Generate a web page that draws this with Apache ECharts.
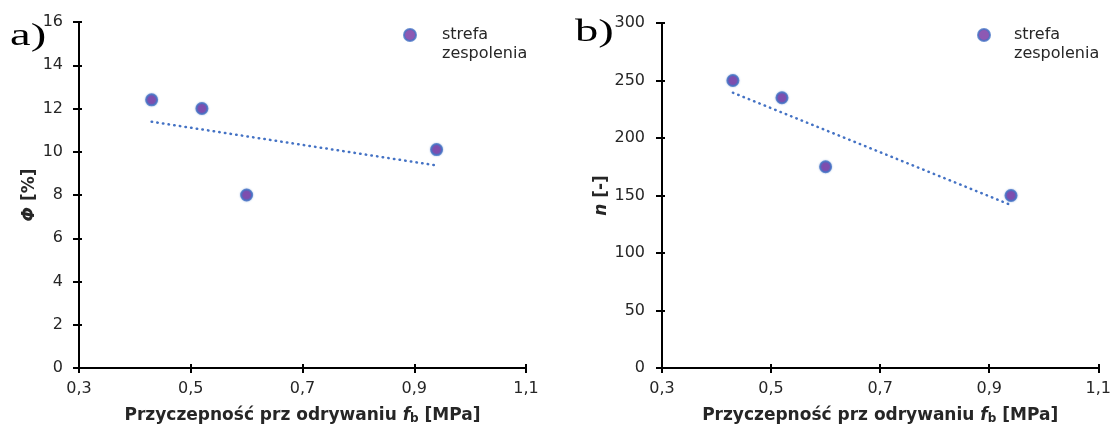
<!DOCTYPE html>
<html>
<head>
<meta charset="utf-8">
<script src="https://cdn.jsdelivr.net/npm/echarts@6/dist/echarts.min.js"></script>
<style>
  html, body { margin: 0; padding: 0; background: #fff; }
  #chart { width: 1114px; height: 430px; }
</style>
</head>
<body>
<div id="chart"></div>
<script>
// Bond strength (pull-off) in MPa for the four samples
const fb = [0.43, 0.52, 0.60, 0.94];
// Panel a) porosity Φ [%]
const phi = [12.4, 12.0, 8.0, 10.1];
// Panel b) n [-]
const nVal = [250, 235, 175, 150];

const seriesName = 'strefa zespolenia';
const xTicks = { min: 0.3, max: 1.1, interval: 0.2 };
const phiTicks = { min: 0, max: 16, interval: 2 };
const nTicks = { min: 0, max: 300, interval: 50 };

// least-squares line through the points, spanning the data's x range
function trend(xs, ys) {
  const n = xs.length;
  const mx = xs.reduce((a, b) => a + b, 0) / n;
  const my = ys.reduce((a, b) => a + b, 0) / n;
  let sxy = 0, sxx = 0;
  for (let i = 0; i < n; i++) {
    sxy += (xs[i] - mx) * (ys[i] - my);
    sxx += (xs[i] - mx) * (xs[i] - mx);
  }
  const k = sxy / sxx, b = my - k * mx;
  const x0 = Math.min(...xs), x1 = Math.max(...xs);
  return [[x0, k * x0 + b], [x1, k * x1 + b]];
}

const font = '"DejaVu Sans", Verdana, sans-serif';
const txt = '#262626';

function xAxisFor(gridIndex) {
  return {
    type: 'value', gridIndex, position: 'bottom',
    min: xTicks.min, max: xTicks.max, interval: xTicks.interval,
    name: '{t|Przyczepność prz odrywaniu }{i|f}{s|b}{t| [MPa]}',
    nameLocation: 'middle', nameGap: 38,
    nameTextStyle: {
      rich: {
        t: { fontFamily: font, fontSize: 17, fontWeight: 'bold', color: txt },
        i: { fontFamily: font, fontSize: 17, fontWeight: 'bold', fontStyle: 'italic', color: txt },
        s: { fontFamily: font, fontSize: 12, fontWeight: 'bold', color: txt, padding: [7, 0, 0, 0] }
      }
    },
    splitLine: { show: false },
    axisLine: { onZero: false, lineStyle: { color: '#000', width: 2 } },
    axisTick: { length: 5, lineStyle: { color: '#000', width: 2 } },
    axisLabel: {
      margin: 13, fontFamily: font, fontSize: 16, color: txt,
      formatter: v => v.toFixed(1).replace('.', ',')
    }
  };
}
// inner half of the crossing tick marks
function xInner(gridIndex) {
  return {
    type: 'value', gridIndex, position: 'bottom',
    min: xTicks.min, max: xTicks.max, interval: xTicks.interval,
    axisLine: { show: false }, splitLine: { show: false },
    axisLabel: { show: false },
    axisTick: { inside: true, length: 4, lineStyle: { color: '#000', width: 2 } }
  };
}
function yAxisFor(gridIndex, ticks, nameRich, nameGap, labelMargin) {
  return {
    type: 'value', gridIndex, position: 'left',
    min: ticks.min, max: ticks.max, interval: ticks.interval,
    name: nameRich, nameLocation: 'middle', nameGap, nameRotate: 90,
    nameTextStyle: {
      rich: {
        t: { fontFamily: font, fontSize: 17, fontWeight: 'bold', color: txt },
        i: { fontFamily: font, fontSize: 17, fontWeight: 'bold', fontStyle: 'italic', color: txt }
      }
    },
    splitLine: { show: false },
    axisLine: { onZero: false, lineStyle: { color: '#000', width: 2 } },
    axisTick: { length: 6, lineStyle: { color: '#000', width: 2 } },
    axisLabel: { margin: labelMargin, fontFamily: font, fontSize: 16, color: txt }
  };
}
function yInner(gridIndex, ticks) {
  return {
    type: 'value', gridIndex, position: 'left',
    min: ticks.min, max: ticks.max, interval: ticks.interval,
    axisLine: { show: false }, splitLine: { show: false },
    axisLabel: { show: false },
    axisTick: { inside: true, length: 3, lineStyle: { color: '#000', width: 2 } }
  };
}

const pointStyle = {
  symbol: 'circle', symbolSize: 11,
  itemStyle: { color: '#7030A0', borderColor: '#4472C4', borderWidth: 2,
               shadowColor: 'rgba(68,114,196,0.5)', shadowBlur: 2 }
};
const trendStyle = {
  type: 'line', showSymbol: false, symbol: 'none', silent: true,
  lineStyle: { color: '#4472C4', width: 2.5, type: [0.5, 5.2], cap: 'round' }
};

// legend entry: the marker sits level with the first word, the second word wraps below
function legendFor(name, left, gap) {
  return {
    data: [name], left, top: 3, itemWidth: 12, itemHeight: 12,
    formatter: () => '{w| }\n{w|strefa}\n{w|zespolenia}',
    textStyle: {
      rich: { w: { fontFamily: font, fontSize: 16, color: txt, lineHeight: 19, padding: [0, 0, 0, gap] } }
    }
  };
}

const zip = (a, b) => a.map((v, i) => [v, b[i]]);

const chart = echarts.init(document.getElementById('chart'), null, { renderer: 'canvas' });
chart.setOption({
  animation: false,
  backgroundColor: '#fff',
  grid: [
    { left: 79, top: 22, width: 447, height: 349 },
    { left: 662, top: 23, width: 438, height: 349 }
  ],
  legend: [legendFor(seriesName, 398, 21), legendFor(seriesName + ' ', 972, 19)],
  xAxis: [xAxisFor(0), xAxisFor(1), xInner(0), xInner(1)],
  yAxis: [
    yAxisFor(0, phiTicks, '{i|Φ}{t| [%]}', 41, 16),
    yAxisFor(1, nTicks, '{i|n}{t| [-]}', 48, 17),
    yInner(0, phiTicks), yInner(1, nTicks)
  ],
  graphic: [
    { type: 'text', left: 10, top: 21, scaleX: 1.5,
      style: { text: 'a)', font: '31px "Liberation Serif", "Times New Roman", serif', fill: '#000' } },
    { type: 'text', left: 575, top: 17, scaleX: 1.5,
      style: { text: 'b)', font: '31px "Liberation Serif", "Times New Roman", serif', fill: '#000' } }
  ],
  series: [
    Object.assign({ name: seriesName, type: 'scatter', xAxisIndex: 0, yAxisIndex: 0, data: zip(fb, phi) }, pointStyle),
    Object.assign({ name: 'trend-a', xAxisIndex: 0, yAxisIndex: 0, data: trend(fb, phi), z: 1 }, trendStyle),
    Object.assign({ name: seriesName + ' ', type: 'scatter', xAxisIndex: 1, yAxisIndex: 1, data: zip(fb, nVal) }, pointStyle),
    Object.assign({ name: 'trend-b', xAxisIndex: 1, yAxisIndex: 1, data: trend(fb, nVal), z: 1 }, trendStyle)
  ]
});
</script>
</body>
</html>
